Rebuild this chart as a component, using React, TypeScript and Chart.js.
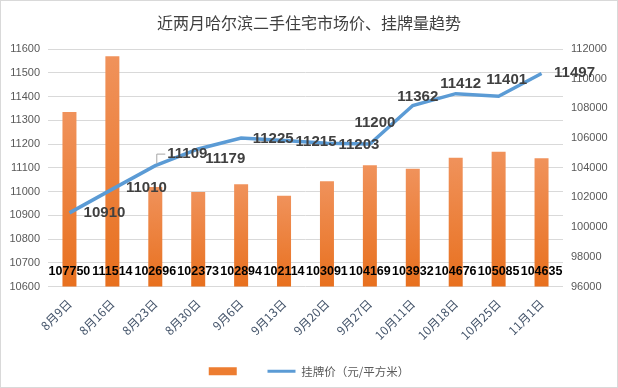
import React, { useEffect, useRef } from "react";
import { Chart, registerables } from "chart.js";

Chart.register(...registerables);

const chartTitle = "近两月哈尔滨二手住宅市场价、挂牌量趋势";
const categories = ["8月9日", "8月16日", "8月23日", "8月30日", "9月6日", "9月13日", "9月20日", "9月27日", "10月11日", "10月18日", "10月25日", "11月1日"];
const listingCounts = [107750, 111514, 102696, 102373, 102894, 102114, 103091, 104169, 103932, 104676, 105085, 104635];
const listingPrices = [10910, 11010, 11109, 11179, 11225, 11215, 11203, 11200, 11362, 11412, 11401, 11497];
const countSeriesLabel = "";
const priceSeriesLabel = "挂牌价（元/平方米）";
const priceAxisMin = 10600;
const priceAxisMax = 11600;
const priceAxisStep = 100;
const countAxisMin = 96000;
const countAxisMax = 112000;
const countAxisStep = 2000;

// label placement offsets (label centre relative to its point), styling only
const priceLabelOffsets: [number, number][] = [
  [35, 0], [34, -1], [32, -12], [27, 10], [32, 1], [32, 1.5],
  [32, 2], [5, -21], [5, -9], [5, -10], [8, -16], [33, -1],
];

const numFont = "'Liberation Sans', Arial, sans-serif";
const cjkFont = "'Noto Sans CJK SC', 'Noto Sans', sans-serif";

const labelPlugin = {
  id: "valueLabels",
  afterDatasetsDraw(chart: any) {
    const ctx = chart.ctx as CanvasRenderingContext2D;
    const area = chart.chartArea;
    ctx.save();
    ctx.textAlign = "center";
    ctx.textBaseline = "middle";
    // bar labels
    const barMeta = chart.getDatasetMeta(0);
    ctx.font = `bold 12.5px ${numFont}`;
    ctx.fillStyle = "#000000";
    barMeta.data.forEach((el: any, i: number) => {
      ctx.fillText(String(listingCounts[i]), el.x, area.bottom - 15);
    });
    // line labels
    const lineMeta = chart.getDatasetMeta(1);
    ctx.font = `bold 15px ${numFont}`;
    ctx.fillStyle = "#404040";
    lineMeta.data.forEach((el: any, i: number) => {
      const [dx, dy] = priceLabelOffsets[i];
      ctx.fillText(String(listingPrices[i]), el.x + dx, el.y + dy);
    });
    // leader line for the third label
    const p = lineMeta.data[2];
    if (p) {
      ctx.strokeStyle = "#A6A6A6";
      ctx.lineWidth = 1;
      ctx.beginPath();
      ctx.moveTo(p.x + 10, p.y - 11.5);
      ctx.lineTo(p.x + 1.5, p.y - 11.5);
      ctx.lineTo(p.x + 1.5, p.y - 2);
      ctx.stroke();
    }
    ctx.restore();
  },
};

export default function App() {
  const ref = useRef<HTMLCanvasElement>(null);

  useEffect(() => {
    if (!ref.current) return;
    const chart = new Chart(ref.current, {
      type: "bar",
      data: {
        labels: categories,
        datasets: [
          {
            type: "bar",
            label: countSeriesLabel,
            data: listingCounts,
            yAxisID: "y2",
            order: 2,
            categoryPercentage: 1,
            barPercentage: 0.326,
            borderWidth: 0,
            backgroundColor: (c: any) => {
              const chart = c.chart;
              const area = chart.chartArea;
              if (!area || c.type !== "data") return "#ED7D31";
              const top = chart.scales.y2.getPixelForValue(c.raw as number);
              const g = chart.ctx.createLinearGradient(0, top, 0, area.bottom);
              g.addColorStop(0, "#F0925B");
              g.addColorStop(1, "#E8701E");
              return g;
            },
          } as any,
          {
            type: "line",
            label: priceSeriesLabel,
            data: listingPrices,
            yAxisID: "y",
            order: 1,
            borderColor: "#5B9BD5",
            backgroundColor: "#5B9BD5",
            borderWidth: 3.5,
            pointRadius: 0,
            pointHoverRadius: 0,
            tension: 0,
            fill: false,
          } as any,
        ],
      },
      options: {
        responsive: false,
        animation: false,
        layout: { padding: 0 },
        plugins: {
          title: {
            display: true,
            text: chartTitle,
            color: "#404040",
            font: { family: cjkFont, size: 16, weight: "normal" },
            padding: { top: 12.4, bottom: 16.4 },
          },
          legend: {
            position: "bottom",
            labels: {
              usePointStyle: true,
              pointStyleWidth: 28,
              boxHeight: 8,
              padding: 25,
              color: "#595959",
              font: { family: cjkFont, size: 11.5 },
              sort: (a: any, b: any) => a.datasetIndex - b.datasetIndex,
              generateLabels: (chart: any) => {
                const items = (Chart.defaults.plugins.legend.labels as any).generateLabels(chart);
                return items.map((it: any) => {
                  if (it.datasetIndex === 0) {
                    it.pointStyle = "rect";
                    it.fillStyle = "#ED7D31";
                    it.strokeStyle = "#ED7D31";
                    it.lineWidth = 0;
                  } else {
                    it.pointStyle = "line";
                    it.strokeStyle = "#5B9BD5";
                    it.lineWidth = 3;
                  }
                  return it;
                });
              },
            },
          },
          tooltip: { enabled: false },
        },
        scales: {
          x: {
            grid: { display: false },
            border: { display: false },
            ticks: {
              autoSkip: false,
              maxRotation: 45,
              minRotation: 45,
              color: "#44546A",
              font: { family: cjkFont, size: 12 },
              padding: 2,
            },
            afterFit: (s: any) => {
              s.height = 54;
            },
          },
          y: {
            position: "left",
            min: priceAxisMin,
            max: priceAxisMax,
            ticks: {
              stepSize: priceAxisStep,
              color: "#595959",
              font: { family: numFont, size: 11 },
              padding: 8,
              callback: (v: any) => String(v),
            },
            grid: { color: "#D9D9D9", drawTicks: false },
            border: { display: false },
            afterFit: (s: any) => {
              s.width = 47;
            },
          },
          y2: {
            position: "right",
            min: countAxisMin,
            max: countAxisMax,
            ticks: {
              stepSize: countAxisStep,
              color: "#595959",
              font: { family: numFont, size: 11 },
              padding: 8,
              callback: (v: any) => String(v),
            },
            grid: { display: false, drawTicks: false },
            border: { display: false },
            afterFit: (s: any) => {
              s.width = 54;
            },
          },
        },
      } as any,
      plugins: [labelPlugin],
    });
    return () => chart.destroy();
  }, []);

  return (
    <div
      style={{
        position: "fixed",
        left: 0,
        top: 0,
        width: 618,
        height: 388,
        boxSizing: "border-box",
        border: "1px solid #D9D9D9",
        background: "#ffffff",
      }}
    >
      <canvas ref={ref} width={616} height={386} style={{ display: "block" }} />
    </div>
  );
}
